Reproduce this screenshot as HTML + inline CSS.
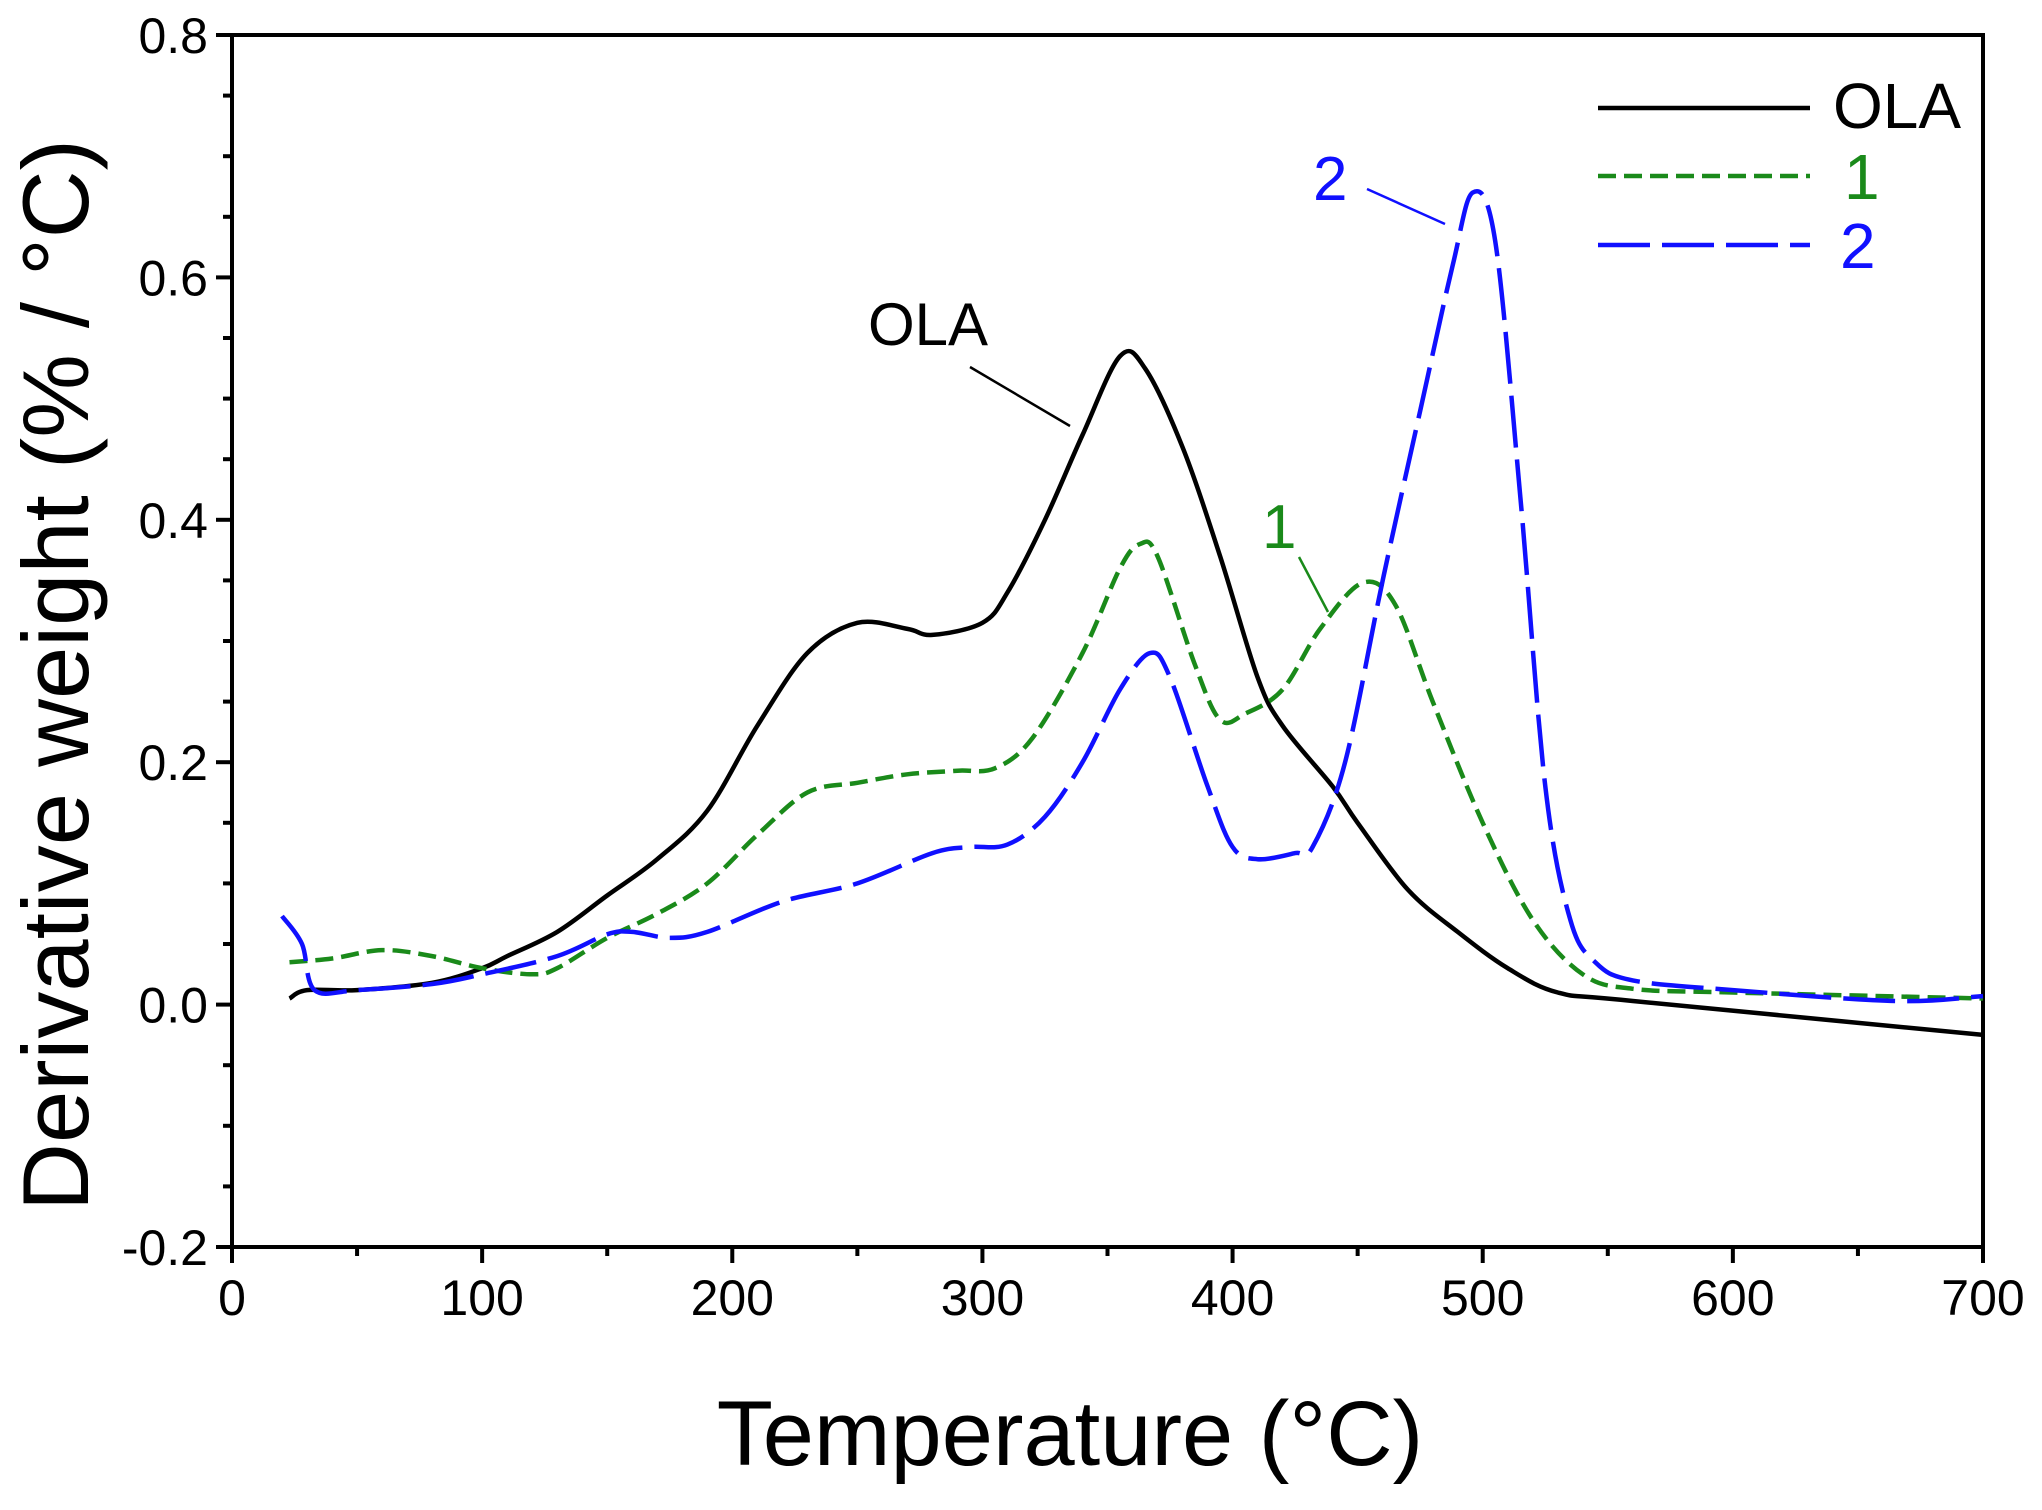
<!DOCTYPE html>
<html><head><meta charset="utf-8"><style>
html,body{margin:0;padding:0;background:#fff}
svg{display:block;font-family:"Liberation Sans",Arial,sans-serif}
</style></head><body>
<svg id="chart" width="2042" height="1510" viewBox="0 0 2042 1510" xmlns="http://www.w3.org/2000/svg"></svg>
<script>
const xTicks=[0,100,200,300,400,500,600,700];
const yTicks=[-0.2,0.0,0.2,0.4,0.6,0.8];
const olaT=[23,30,50,80,100,110,130,150,170,190,210,230,250,270,280,300,310,325,340,355,365,380,395,410,420,440,450,470,490,510,530,560,700];
const olaV=[0.005,0.012,0.012,0.018,0.03,0.04,0.06,0.09,0.12,0.16,0.23,0.29,0.315,0.31,0.305,0.315,0.34,0.40,0.47,0.535,0.525,0.46,0.37,0.27,0.23,0.18,0.15,0.095,0.06,0.03,0.01,0.003,-0.025];
const s1T=[23,40,60,80,100,120,130,150,170,190,210,230,250,270,290,305,320,340,355,363,370,385,395,405,420,435,452,465,480,500,520,540,560,600,700];
const s1V=[0.035,0.038,0.045,0.04,0.03,0.025,0.03,0.055,0.075,0.1,0.14,0.175,0.183,0.19,0.193,0.195,0.22,0.29,0.36,0.38,0.37,0.28,0.235,0.24,0.26,0.31,0.348,0.33,0.25,0.15,0.07,0.025,0.013,0.01,0.005];
const s2T=[20,28,33,50,80,100,130,150,160,175,190,220,250,280,295,310,325,340,355,367,375,390,400,410,425,432,445,460,475,488,496,505,515,525,535,545,560,600,665,700];
const s2V=[0.073,0.05,0.012,0.012,0.017,0.025,0.04,0.058,0.06,0.055,0.06,0.085,0.1,0.125,0.13,0.132,0.155,0.2,0.26,0.29,0.27,0.18,0.13,0.12,0.125,0.13,0.2,0.35,0.49,0.61,0.67,0.63,0.42,0.18,0.07,0.035,0.02,0.012,0.003,0.007];

const L=232,R=1983,T=35,B=1247;
const X=v=>L+(v-0)/700*(R-L);
const Y=v=>B-(v+0.2)/1.0*(B-T);
const svg=document.getElementById('chart');
const NS='http://www.w3.org/2000/svg';
function el(tag,attrs,parent){const e=document.createElementNS(NS,tag);for(const k in attrs)e.setAttribute(k,attrs[k]);(parent||svg).appendChild(e);return e;}
function path(ts,vs){
  const p=ts.map((t,i)=>[X(t),Y(vs[i])]);
  let d='M'+p[0][0].toFixed(1)+','+p[0][1].toFixed(1);
  for(let i=0;i<p.length-1;i++){
    const p0=p[Math.max(0,i-1)],p1=p[i],p2=p[i+1],p3=p[Math.min(p.length-1,i+2)];
    const c1=[p1[0]+(p2[0]-p0[0])/6,p1[1]+(p2[1]-p0[1])/6];
    const c2=[p2[0]-(p3[0]-p1[0])/6,p2[1]-(p3[1]-p1[1])/6];
    d+=' C'+c1[0].toFixed(1)+','+c1[1].toFixed(1)+' '+c2[0].toFixed(1)+','+c2[1].toFixed(1)+' '+p2[0].toFixed(1)+','+p2[1].toFixed(1);
  }
  return d;
}
const gx=el('g',{});


for(let v=0;v<=700;v+=50){
  const major=v%100===0;
  el('line',{x1:X(v),x2:X(v),y1:B,y2:B+(major?16:9),stroke:'#000','stroke-width':4},gx);
}
xTicks.forEach(v=>{
  const t=el('text',{x:X(v),y:1315,'text-anchor':'middle','font-size':50,fill:'#000'},gx);
  t.textContent=String(v);
  
  
});
const gy=el('g',{});


for(let i=0;i<=20;i++){
  const v=-0.2+i*0.05;const major=i%4===0;
  el('line',{x1:L,x2:L-(major?16:9),y1:Y(v),y2:Y(v),stroke:'#000','stroke-width':4},gy);
}
yTicks.forEach(v=>{
  const t=el('text',{x:208,y:Y(v)+18,'text-anchor':'end','font-size':50,fill:'#000'},gy);
  t.textContent=v.toFixed(1);
  
  
});
const frame=el('rect',{x:L,y:T,width:R-L,height:B-T,fill:'none',stroke:'#000','stroke-width':4});


const p1=el('path',{d:path(olaT,olaV),fill:'none',stroke:'#000','stroke-width':4.5});


const p2=el('path',{d:path(s1T,s1V),fill:'none',stroke:'#1a8a1a','stroke-width':4.5,'stroke-dasharray':'18 8'});


const p3=el('path',{d:path(s2T,s2V),fill:'none',stroke:'#1010ff','stroke-width':4.5,'stroke-dasharray':'52 12'});


function txt(s,x,y,size,fill,name,anchor){const t=el('text',{x:x,y:y,'font-size':size,fill:fill,'text-anchor':anchor||'start'});t.textContent=s;return t;}
txt('OLA',868,345,60,'#000','ola-annotation');
el('line',{x1:970,y1:367,x2:1070,y2:426,stroke:'#000','stroke-width':2.5});
txt('1',1262,548,62,'#1a8a1a','sample-1-annotation');
el('line',{x1:1299,y1:557,x2:1328,y2:612,stroke:'#1a8a1a','stroke-width':2.5});
txt('2',1313,200,62,'#1010ff','sample-2-annotation');
el('line',{x1:1367,y1:189,x2:1445,y2:224,stroke:'#1010ff','stroke-width':2.5});
const lg=el('g',{});


el('line',{x1:1598,x2:1810,y1:108,y2:108,stroke:'#000','stroke-width':4.5},lg);
txt('OLA',1833,128,64,'#000','legend-ola');
el('line',{x1:1598,x2:1810,y1:176,y2:176,stroke:'#1a8a1a','stroke-width':4.5,'stroke-dasharray':'18 8'},lg);
txt('1',1844,199,64,'#1a8a1a','legend-1');
el('line',{x1:1598,x2:1810,y1:245,y2:245,stroke:'#1010ff','stroke-width':4.5,'stroke-dasharray':'52 12'},lg);
txt('2',1840,268,64,'#1010ff','legend-2');
txt('Temperature (°C)',1070,1465,92,'#000','x-axis-title','middle');
const yt=el('text',{x:0,y:0,'font-size':94,fill:'#000','text-anchor':'middle',transform:'translate(88,675) rotate(-90)'});
yt.textContent='Derivative weight (% / °C)';


</script>
</body></html>
